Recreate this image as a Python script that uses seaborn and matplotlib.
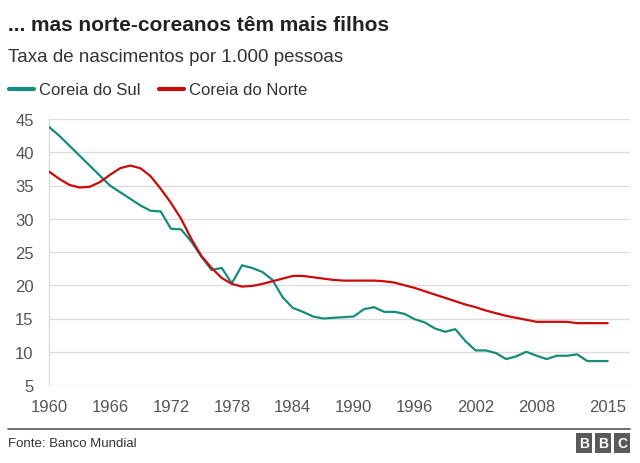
import pandas as pd
import matplotlib.pyplot as plt
import seaborn as sns
from matplotlib.lines import Line2D

years = list(range(1960, 2016))

sul = [43.8, 42.5, 41.0, 39.5, 38.0, 36.5, 35.0, 34.0, 33.0, 32.0,
       31.2, 31.1, 28.5, 28.4, 26.6, 24.3, 22.3, 22.6, 20.3, 23.0,
       22.6, 22.0, 20.8, 18.2, 16.6, 16.0, 15.3, 15.0, 15.1, 15.2,
       15.3, 16.4, 16.7, 16.0, 16.0, 15.7, 14.9, 14.4, 13.5, 13.0,
       13.4, 11.6, 10.2, 10.2, 9.8, 8.9, 9.3, 10.0, 9.4, 8.9,
       9.4, 9.4, 9.6, 8.6, 8.6, 8.6]

norte = [37.1, 36.0, 35.1, 34.7, 34.8, 35.5, 36.6, 37.6, 38.0, 37.6,
         36.4, 34.5, 32.4, 30.0, 27.0, 24.4, 22.6, 21.1, 20.2, 19.8,
         19.9, 20.2, 20.6, 21.0, 21.4, 21.4, 21.2, 21.0, 20.8, 20.7,
         20.7, 20.7, 20.7, 20.6, 20.4, 20.0, 19.6, 19.1, 18.6, 18.1,
         17.6, 17.1, 16.7, 16.2, 15.8, 15.4, 15.1, 14.8, 14.5, 14.5,
         14.5, 14.5, 14.3, 14.3, 14.3, 14.3]

x_ticks = [1960, 1966, 1972, 1978, 1984, 1990, 1996, 2002, 2008, 2015]
y_ticks = [5, 10, 15, 20, 25, 30, 35, 40, 45]

df = pd.DataFrame({"ano": years * 2,
                   "taxa": sul + norte,
                   "pais": ["Coreia do Sul"] * len(years) + ["Coreia do Norte"] * len(years)})

sns.set_style("white")
plt.rcParams["font.family"] = ["Liberation Sans", "DejaVu Sans"]

fig = plt.figure(figsize=(6.4, 4.64), dpi=100)
ax = fig.add_axes([49 / 640, 1 - 386 / 464, 581 / 640, 266 / 464])

cores = {"Coreia do Sul": "#168c7d", "Coreia do Norte": "#cc0a0a"}
sns.lineplot(data=df, x="ano", y="taxa", hue="pais", palette=cores,
             linewidth=1.6, ax=ax, legend=False, zorder=3)

ax.set_xlim(1960, 2017.2)
ax.set_ylim(5, 45)
ax.set_xticks(x_ticks)
ax.set_yticks(y_ticks)
ax.grid(True, axis="y", color="#dcdcdc", linewidth=1)
ax.grid(False, axis="x")
for s in ["top", "right", "bottom"]:
    ax.spines[s].set_visible(False)
ax.spines["left"].set_color("#dcdcdc")
ax.spines["left"].set_linewidth(1)
ax.tick_params(axis="both", length=0, labelsize=12, labelcolor="#555555")
ax.tick_params(axis="y", pad=11)
ax.tick_params(axis="x", pad=10)
for lab in ax.get_yticklabels() + ax.get_xticklabels():
    lab.set_clip_on(False)
ax.set_xlabel("")
ax.set_ylabel("")

fig.text(8 / 640, 1 - 31 / 464, "... mas norte-coreanos têm mais filhos",
         fontsize=15, fontweight="bold", color="#222222")
fig.text(8 / 640, 1 - 62 / 464, "Taxa de nascimentos por 1.000 pessoas",
         fontsize=13.5, color="#333333")

handles = [Line2D([], [], color=cores[k], linewidth=3) for k in cores]
fig.legend(handles, list(cores), loc="center left",
           bbox_to_anchor=(-0.009, 1 - 91 / 464), ncol=2, frameon=False,
           fontsize=12, handlelength=1.5, handletextpad=0.3,
           columnspacing=1.1, labelcolor="#333333")

fig.add_artist(Line2D([8 / 640, 630 / 640], [1 - 430 / 464, 1 - 430 / 464],
                      color="#555555", linewidth=1.2))
fig.text(8 / 640, 1 - 444 / 464, "Fonte: Banco Mundial", fontsize=9.5,
         color="#333333", va="center")
for i, letra in enumerate("BBC"):
    fig.text((584 + i * 19) / 640, 1 - 444 / 464, letra, fontsize=10,
             fontweight="bold", color="white", ha="center", va="center",
             bbox=dict(boxstyle="square,pad=0.2", fc="#5a5a5a", ec="none"))

fig.savefig("out.png", dpi=100)
